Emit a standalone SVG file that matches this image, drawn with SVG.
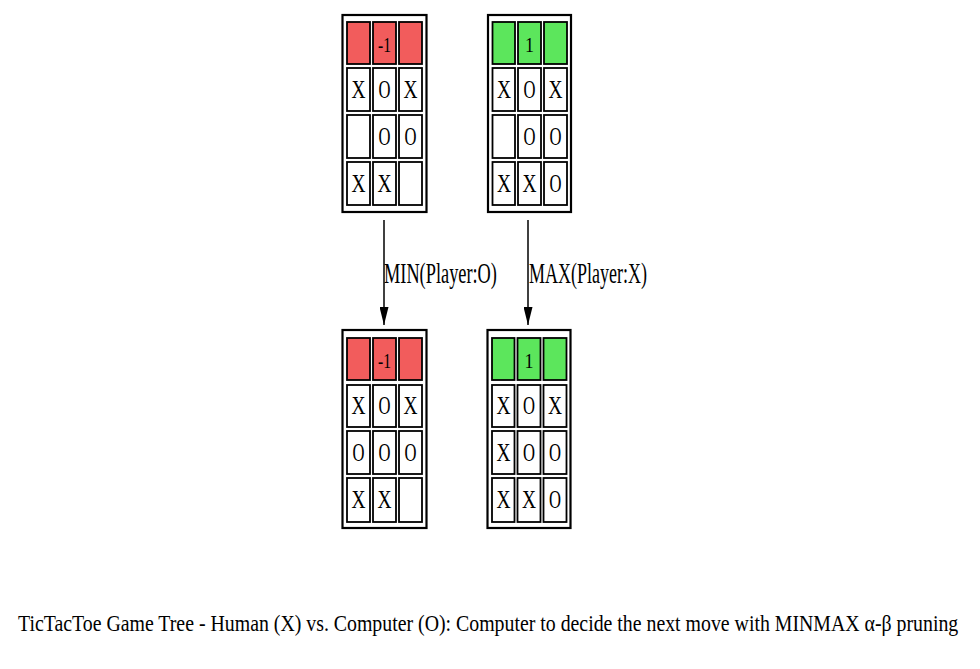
<svg xmlns="http://www.w3.org/2000/svg" width="980" height="669" viewBox="0 0 980 669">
<style>
.outer{fill:#fff;stroke:#000;stroke-width:2.2}
.cell{fill:#fff;stroke:#000;stroke-width:1.8}
.red{fill:#f25c5c}
.green{fill:#5ce65c}
.t{font-family:"Liberation Serif","DejaVu Serif","Times New Roman",serif;fill:#000;text-anchor:middle}
.m{font-size:25px}
.n{font-size:22px}
.lbl{font-family:"Liberation Serif","DejaVu Serif","Times New Roman",serif;font-size:29px;fill:#000}
.cap{font-family:"Liberation Serif","DejaVu Serif","Times New Roman",serif;font-size:23px;fill:#000}
.edge{stroke:#000;stroke-width:1.5;fill:none}
</style>
<defs>
<marker id="ah" markerWidth="18" markerHeight="9" refX="18" refY="4.5" orient="auto" markerUnits="userSpaceOnUse" viewBox="0 0 18 9">
<path d="M0,0 L18,4.5 L0,9 Z" fill="#000"/>
</marker>
</defs>
<rect width="980" height="669" fill="#fff"/>

<g id="edges">
<line class="edge" x1="384" y1="220" x2="384" y2="325" marker-end="url(#ah)"/>
<text class="lbl" transform="translate(384,283) scale(0.632,1)">MIN(Player:O)</text>
<line class="edge" x1="528" y1="220" x2="528" y2="325" marker-end="url(#ah)"/>
<text class="lbl" transform="translate(529,283) scale(0.621,1)">MAX(Player:X)</text>
</g>

<g id="node_top_min" transform="translate(342.5,15)">
<rect class="outer" x="0" y="0" width="84" height="197"/>
<rect class="cell red" x="4.5" y="7" width="23" height="42"/>
<rect class="cell red" x="30.5" y="7" width="23" height="42"/>
<rect class="cell red" x="56.5" y="7" width="23" height="42"/>
<text class="t n" x="42" y="37" textLength="13" lengthAdjust="spacingAndGlyphs">-1</text>
<rect class="cell" x="4.5" y="53" width="23" height="43"/>
<rect class="cell" x="30.5" y="53" width="23" height="43"/>
<rect class="cell" x="56.5" y="53" width="23" height="43"/>
<rect class="cell" x="4.5" y="100" width="23" height="43"/>
<rect class="cell" x="30.5" y="100" width="23" height="43"/>
<rect class="cell" x="56.5" y="100" width="23" height="43"/>
<rect class="cell" x="4.5" y="147" width="23" height="43"/>
<rect class="cell" x="30.5" y="147" width="23" height="43"/>
<rect class="cell" x="56.5" y="147" width="23" height="43"/>
<text class="t m" x="16" y="82.5" textLength="14" lengthAdjust="spacingAndGlyphs">X</text>
<text class="t m" x="42" y="82.5" textLength="12" lengthAdjust="spacingAndGlyphs">O</text>
<text class="t m" x="68" y="82.5" textLength="14" lengthAdjust="spacingAndGlyphs">X</text>
<text class="t m" x="42" y="129.5" textLength="12" lengthAdjust="spacingAndGlyphs">O</text>
<text class="t m" x="68" y="129.5" textLength="12" lengthAdjust="spacingAndGlyphs">O</text>
<text class="t m" x="16" y="176.5" textLength="14" lengthAdjust="spacingAndGlyphs">X</text>
<text class="t m" x="42" y="176.5" textLength="14" lengthAdjust="spacingAndGlyphs">X</text>
</g>

<g id="node_top_max" transform="translate(488,15)">
<rect class="outer" x="0" y="0" width="83" height="197"/>
<rect class="cell green" x="4.5" y="7" width="22.5" height="42"/>
<rect class="cell green" x="30" y="7" width="23" height="42"/>
<rect class="cell green" x="56" y="7" width="23" height="42"/>
<text class="t n" x="41.5" y="37" textLength="9" lengthAdjust="spacingAndGlyphs">1</text>
<rect class="cell" x="4.5" y="53" width="22.5" height="43"/>
<rect class="cell" x="30" y="53" width="23" height="43"/>
<rect class="cell" x="56" y="53" width="23" height="43"/>
<rect class="cell" x="4.5" y="100" width="22.5" height="43"/>
<rect class="cell" x="30" y="100" width="23" height="43"/>
<rect class="cell" x="56" y="100" width="23" height="43"/>
<rect class="cell" x="4.5" y="147" width="22.5" height="43"/>
<rect class="cell" x="30" y="147" width="23" height="43"/>
<rect class="cell" x="56" y="147" width="23" height="43"/>
<text class="t m" x="16" y="82.5" textLength="14" lengthAdjust="spacingAndGlyphs">X</text>
<text class="t m" x="41.5" y="82.5" textLength="12" lengthAdjust="spacingAndGlyphs">O</text>
<text class="t m" x="67.5" y="82.5" textLength="14" lengthAdjust="spacingAndGlyphs">X</text>
<text class="t m" x="41.5" y="129.5" textLength="12" lengthAdjust="spacingAndGlyphs">O</text>
<text class="t m" x="67.5" y="129.5" textLength="12" lengthAdjust="spacingAndGlyphs">O</text>
<text class="t m" x="16" y="176.5" textLength="14" lengthAdjust="spacingAndGlyphs">X</text>
<text class="t m" x="41.5" y="176.5" textLength="14" lengthAdjust="spacingAndGlyphs">X</text>
<text class="t m" x="67.5" y="176.5" textLength="12" lengthAdjust="spacingAndGlyphs">O</text>
</g>

<g id="node_bottom_min" transform="translate(342.5,330)">
<rect class="outer" x="0" y="0" width="84" height="198"/>
<rect class="cell red" x="4.5" y="8" width="23" height="42"/>
<rect class="cell red" x="30.5" y="8" width="23" height="42"/>
<rect class="cell red" x="56.5" y="8" width="23" height="42"/>
<text class="t n" x="42" y="38" textLength="13" lengthAdjust="spacingAndGlyphs">-1</text>
<rect class="cell" x="4.5" y="55" width="23" height="42"/>
<rect class="cell" x="30.5" y="55" width="23" height="42"/>
<rect class="cell" x="56.5" y="55" width="23" height="42"/>
<rect class="cell" x="4.5" y="101" width="23" height="43"/>
<rect class="cell" x="30.5" y="101" width="23" height="43"/>
<rect class="cell" x="56.5" y="101" width="23" height="43"/>
<rect class="cell" x="4.5" y="148" width="23" height="44"/>
<rect class="cell" x="30.5" y="148" width="23" height="44"/>
<rect class="cell" x="56.5" y="148" width="23" height="44"/>
<text class="t m" x="16" y="84" textLength="14" lengthAdjust="spacingAndGlyphs">X</text>
<text class="t m" x="42" y="84" textLength="12" lengthAdjust="spacingAndGlyphs">O</text>
<text class="t m" x="68" y="84" textLength="14" lengthAdjust="spacingAndGlyphs">X</text>
<text class="t m" x="16" y="130.5" textLength="12" lengthAdjust="spacingAndGlyphs">O</text>
<text class="t m" x="42" y="130.5" textLength="12" lengthAdjust="spacingAndGlyphs">O</text>
<text class="t m" x="68" y="130.5" textLength="12" lengthAdjust="spacingAndGlyphs">O</text>
<text class="t m" x="16" y="178" textLength="14" lengthAdjust="spacingAndGlyphs">X</text>
<text class="t m" x="42" y="178" textLength="14" lengthAdjust="spacingAndGlyphs">X</text>
</g>

<g id="node_bottom_max" transform="translate(487.5,330)">
<rect class="outer" x="0" y="0" width="83" height="198"/>
<rect class="cell green" x="4.5" y="8" width="22.5" height="42"/>
<rect class="cell green" x="30" y="8" width="23" height="42"/>
<rect class="cell green" x="56" y="8" width="23" height="42"/>
<text class="t n" x="41.5" y="38" textLength="9" lengthAdjust="spacingAndGlyphs">1</text>
<rect class="cell" x="4.5" y="55" width="22.5" height="42"/>
<rect class="cell" x="30" y="55" width="23" height="42"/>
<rect class="cell" x="56" y="55" width="23" height="42"/>
<rect class="cell" x="4.5" y="101" width="22.5" height="43"/>
<rect class="cell" x="30" y="101" width="23" height="43"/>
<rect class="cell" x="56" y="101" width="23" height="43"/>
<rect class="cell" x="4.5" y="148" width="22.5" height="44"/>
<rect class="cell" x="30" y="148" width="23" height="44"/>
<rect class="cell" x="56" y="148" width="23" height="44"/>
<text class="t m" x="16" y="84" textLength="14" lengthAdjust="spacingAndGlyphs">X</text>
<text class="t m" x="41.5" y="84" textLength="12" lengthAdjust="spacingAndGlyphs">O</text>
<text class="t m" x="67.5" y="84" textLength="14" lengthAdjust="spacingAndGlyphs">X</text>
<text class="t m" x="16" y="130.5" textLength="14" lengthAdjust="spacingAndGlyphs">X</text>
<text class="t m" x="41.5" y="130.5" textLength="12" lengthAdjust="spacingAndGlyphs">O</text>
<text class="t m" x="67.5" y="130.5" textLength="12" lengthAdjust="spacingAndGlyphs">O</text>
<text class="t m" x="16" y="178" textLength="14" lengthAdjust="spacingAndGlyphs">X</text>
<text class="t m" x="41.5" y="178" textLength="14" lengthAdjust="spacingAndGlyphs">X</text>
<text class="t m" x="67.5" y="178" textLength="12" lengthAdjust="spacingAndGlyphs">O</text>
</g>

<g id="caption">
<text class="cap" transform="translate(18,631) scale(0.862,1)">TicTacToe Game Tree - Human (X) vs. Computer (O): Computer to decide the next move with MINMAX α-β pruning</text>
</g>
</svg>
